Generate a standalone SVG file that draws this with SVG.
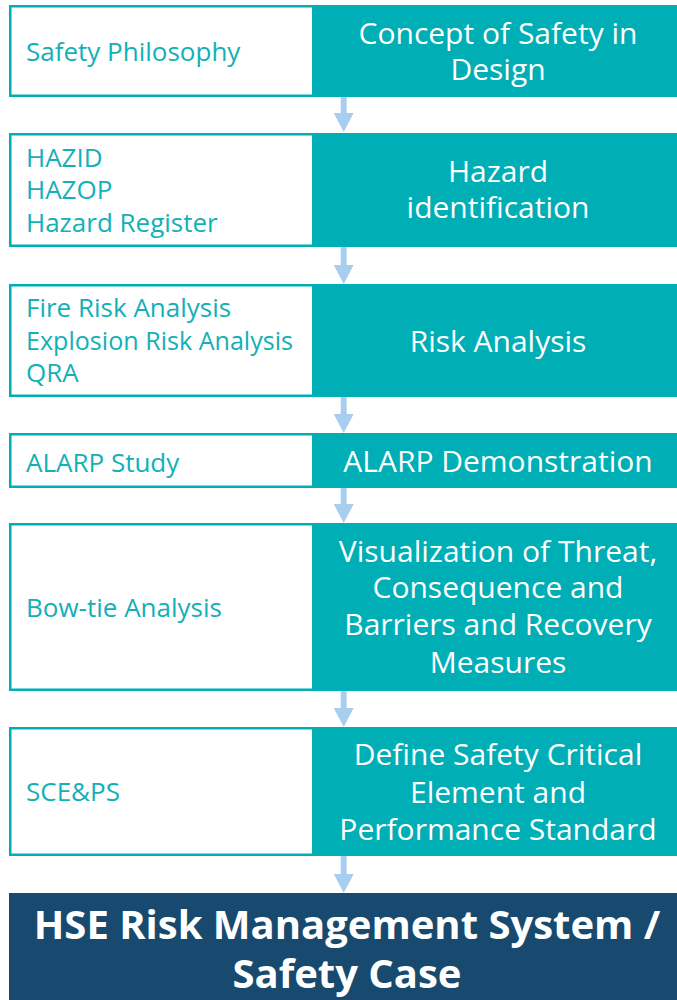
<svg xmlns="http://www.w3.org/2000/svg" width="677" height="1000" viewBox="0 0 677 1000">
<style>
.frame{fill:#00AEB5}
.inner{fill:#FFFFFF}
.lt{font-family:"Open Sans","Noto Sans",sans-serif;font-size:26px;fill:#12B0B7}
.rt{font-family:"Open Sans","Noto Sans",sans-serif;font-size:30px;fill:#FFFFFF;text-anchor:middle}
.bt{font-family:"Open Sans","Noto Sans",sans-serif;font-size:40px;font-weight:bold;fill:#FFFFFF;text-anchor:middle}
.arr{stroke:#A7CEEE;stroke-width:6}
</style>
<defs>
<marker id="ah" viewBox="0 0 19 20" markerWidth="19" markerHeight="20" refX="0" refY="10" markerUnits="userSpaceOnUse" orient="auto">
<path d="M0,0 L19,10 L0,20 z" fill="#A7CEEE"/>
</marker>
</defs>
<rect width="677" height="1000" fill="#FFFFFF"/>
<g id="connectors">
<line class="arr" x1="343.7" y1="97" x2="343.7" y2="113" marker-end="url(#ah)"/>
<line class="arr" x1="343.7" y1="247" x2="343.7" y2="265" marker-end="url(#ah)"/>
<line class="arr" x1="343.7" y1="397" x2="343.7" y2="414" marker-end="url(#ah)"/>
<line class="arr" x1="343.7" y1="488" x2="343.7" y2="504" marker-end="url(#ah)"/>
<line class="arr" x1="343.7" y1="691" x2="343.7" y2="708" marker-end="url(#ah)"/>
<line class="arr" x1="343.7" y1="856" x2="343.7" y2="874" marker-end="url(#ah)"/>
</g>
<g id="row1">
<rect class="frame" x="9" y="5" width="676" height="92"/>
<rect class="inner" x="11.5" y="7.5" width="300.5" height="87"/>
<text class="lt" x="26" y="61">Safety Philosophy</text>
<text class="rt" x="498" y="44.3">Concept of Safety in</text>
<text class="rt" x="498" y="80">Design</text>
</g>
<g id="row2">
<rect class="frame" x="9" y="133" width="676" height="114"/>
<rect class="inner" x="11.5" y="135.5" width="300.5" height="109"/>
<text class="lt" x="26" y="167">HAZID</text>
<text class="lt" x="26" y="199">HAZOP</text>
<text class="lt" x="26" y="231.5">Hazard Register</text>
<text class="rt" x="498" y="181.7">Hazard</text>
<text class="rt" x="498" y="218.3">identification</text>
</g>
<g id="row3">
<rect class="frame" x="9" y="284" width="676" height="113"/>
<rect class="inner" x="11.5" y="286.5" width="300.5" height="108"/>
<text class="lt" x="26" y="317">Fire Risk Analysis</text>
<text class="lt" x="26" y="350" textLength="267" lengthAdjust="spacingAndGlyphs">Explosion Risk Analysis</text>
<text class="lt" x="26" y="381.5">QRA</text>
<text class="rt" x="498" y="351.7">Risk Analysis</text>
</g>
<g id="row4">
<rect class="frame" x="9" y="433" width="676" height="55"/>
<rect class="inner" x="11.5" y="435.5" width="300.5" height="50"/>
<text class="lt" x="26" y="471.5">ALARP Study</text>
<text class="rt" x="498" y="471.5">ALARP Demonstration</text>
</g>
<g id="row5">
<rect class="frame" x="9" y="523" width="676" height="168"/>
<rect class="inner" x="11.5" y="525.5" width="300.5" height="163"/>
<text class="lt" x="26" y="616.5">Bow-tie Analysis</text>
<text class="rt" x="498" y="561.7">Visualization of Threat,</text>
<text class="rt" x="498" y="598.3">Consequence and</text>
<text class="rt" x="498" y="635">Barriers and Recovery</text>
<text class="rt" x="498" y="673.3">Measures</text>
</g>
<g id="row6">
<rect class="frame" x="9" y="727" width="676" height="129"/>
<rect class="inner" x="11.5" y="729.5" width="300.5" height="124"/>
<text class="lt" x="26" y="801">SCE&amp;PS</text>
<text class="rt" x="498" y="765">Define Safety Critical</text>
<text class="rt" x="498" y="802.7">Element and</text>
<text class="rt" x="498" y="840">Performance Standard</text>
</g>
<g id="result">
<rect x="9" y="893" width="676" height="107" fill="#174A6E"/>
<text class="bt" x="347" y="939">HSE Risk Management System /</text>
<text class="bt" x="347" y="988">Safety Case</text>
</g>
</svg>
